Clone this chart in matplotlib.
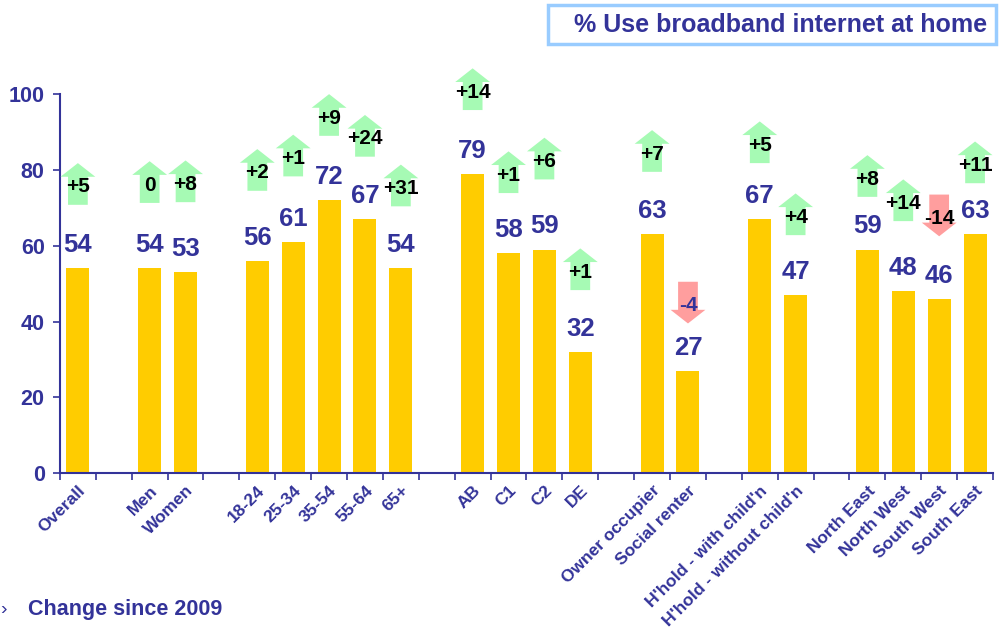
import numpy as np
import matplotlib
matplotlib.use("Agg")
import matplotlib.pyplot as plt
from matplotlib.patches import Rectangle

plt.rcParams['font.family'] = ['Liberation Sans', 'DejaVu Sans']

# groups of categories (a blank slot separates each group)
groups = [
    ["Overall"],
    ["Men", "Women"],
    ["18-24", "25-34", "35-54", "55-64", "65+"],
    ["AB", "C1", "C2", "DE"],
    ["Owner occupier", "Social renter"],
    ["H'hold - with child'n", "H'hold - without child'n"],
    ["North East", "North West", "South West", "South East"],
]
values = [54, 54, 53, 56, 61, 72, 67, 54, 79, 58, 59, 32, 63, 27, 67, 47, 59, 48, 46, 63]
change = [5, 0, 8, 2, 1, 9, 24, 31, 14, 1, 6, 1, 7, -4, 5, 4, 8, 14, -14, 11]
# where the change arrows sit (middle of each arrow, in % units)
arrow_mid = [76.3, 76.8, 77, 80, 83.8, 94.5, 89, 75.9, 101.3, 79.4, 83, 53.8,
             85, 45, 87.3, 68.3, 78.4, 72, 68, 82]

navy = "#333399"

labels = []
xpos = []
slot = 0
for g in groups:
    for name in g:
        labels.append(name)
        xpos.append(slot)
        slot += 1
    slot += 1
nslots = slot - 1
xpos = np.array(xpos)

fig = plt.figure(figsize=(9.99, 6.36), dpi=100)
ax = fig.add_axes([0.060, 0.256, 0.934, 0.596])

ax.bar(xpos, values, width=0.64, color="#FFCC00", zorder=2)

for x, v in zip(xpos, values):
    ax.annotate(str(v), (x, v), xytext=(0, 8), textcoords="offset points",
                ha="center", va="bottom", fontsize=18.5, fontweight="bold",
                color=navy, zorder=4)

for x, c, m in zip(xpos, change, arrow_mid):
    if c >= 0:
        ax.arrow(x, m - 5.5, 0, 11, width=0.55, head_width=0.97, head_length=3.6,
                 length_includes_head=True, color="#A6FAB4", lw=0, clip_on=False, zorder=3)
        txt = "+%d" % c if c > 0 else "0"
        tcol = "black"
    else:
        ax.arrow(x, m + 5.5, 0, -11, width=0.55, head_width=0.97, head_length=3.6,
                 length_includes_head=True, color="#FF9E9E", lw=0, clip_on=False, zorder=3)
        txt = "%d" % c
        tcol = navy if c == -4 else "black"
    ax.text(x, m - 0.8, txt, ha="center", va="center", fontsize=15,
            fontweight="bold", color=tcol, zorder=5, clip_on=False)

ax.set_xlim(-0.5, nslots - 0.5)
ax.set_ylim(0, 100)
ax.set_yticks(np.arange(0, 101, 20))
ax.set_xticks(xpos)
ax.set_xticklabels(labels, rotation=45, ha="right", rotation_mode="anchor",
                   fontsize=12.5, fontweight="bold", color=navy)
ax.set_xticks(np.arange(-0.5, nslots, 1), minor=True)
ax.tick_params(axis="x", which="major", length=0, pad=7)
ax.tick_params(axis="x", which="minor", length=5, color=navy, width=1.2)
ax.tick_params(axis="y", length=5, color=navy, width=1.2, labelsize=15.5,
               labelcolor=navy, pad=6)
for t in ax.get_yticklabels():
    t.set_fontweight("bold")
for s in ["top", "right"]:
    ax.spines[s].set_visible(False)
for s in ["left", "bottom"]:
    ax.spines[s].set_color(navy)
    ax.spines[s].set_linewidth(1.5)

# title box
fig.patches.append(Rectangle((0.549, 0.931), 0.448, 0.061, transform=fig.transFigure,
                             facecolor="white", edgecolor="#99CCFF", lw=2.5))
fig.text(0.781, 0.960, "% Use broadband internet at home", ha="center", va="center",
         fontsize=18, fontweight="bold", color=navy)

fig.text(0.028, 0.042, "Change since 2009", ha="left", va="center",
         fontsize=15.5, fontweight="bold", color=navy)
fig.text(0.0, 0.042, "\u203a", ha="left", va="center", fontsize=14, color=navy)

fig.savefig("out.png", dpi=100)
